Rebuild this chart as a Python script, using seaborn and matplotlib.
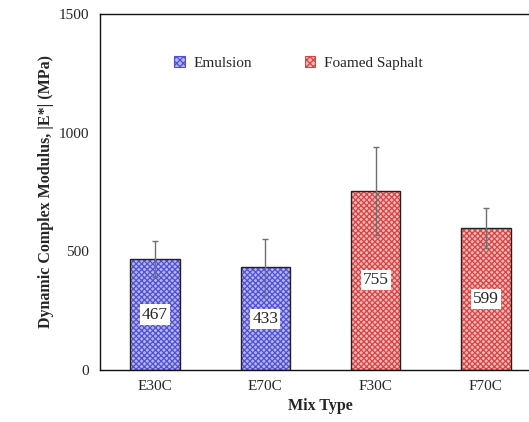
import matplotlib
matplotlib.use("Agg")
import matplotlib.pyplot as plt
import seaborn as sns
import pandas as pd
import numpy as np
from matplotlib.patches import Rectangle, Patch
from matplotlib.ticker import MultipleLocator, FixedLocator, NullFormatter

mixes = ["E30C", "E70C", "F30C", "F70C"]
groups = ["Emulsion", "Emulsion", "Foamed Saphalt", "Foamed Saphalt"]
modulus = [467, 433, 755, 599]
std_dev = [76, 118, 185, 83]

face = {"Emulsion": "#b4b4ee", "Foamed Saphalt": "#f4b8b8"}
hatch_col = {"Emulsion": "#5050d4", "Foamed Saphalt": "#d84444"}

sns.set_theme(style="white")
plt.rcParams["font.family"] = ["Liberation Serif", "DejaVu Serif"]
plt.rcParams["hatch.linewidth"] = 0.9

df = pd.DataFrame({"Mix": mixes, "Group": groups, "E": modulus})

fig = plt.figure(figsize=(5.29, 4.22), dpi=100)
ax = fig.add_axes([100 / 529, 52 / 422, 441 / 529, 356 / 422])

sns.barplot(data=df, x="Mix", y="E", hue="Group", dodge=False, width=0.45,
            errorbar=None, legend=False, ax=ax, linewidth=0)

bars = [p for p in ax.patches if p.get_height() > 0]
bars.sort(key=lambda p: p.get_x())
for p, g in zip(bars, groups):
    p.set_facecolor(face[g])
    p.set_edgecolor(hatch_col[g])
    p.set_hatch("xxxxxx")
    p.set_linewidth(0)
    ax.add_patch(Rectangle((p.get_x(), p.get_y()), p.get_width(), p.get_height(),
                           fill=False, edgecolor="#222222", linewidth=1.0, zorder=3))

xpos = np.arange(len(mixes))
ax.errorbar(xpos, modulus, yerr=std_dev, fmt="none", ecolor="#707070",
            elinewidth=1.0, capsize=2.5, capthick=1.0, zorder=4)

for x, v in zip(xpos, modulus):
    ax.text(x, v / 2, f"{v}", ha="center", va="center", fontsize=12.5,
            bbox=dict(facecolor="white", edgecolor="none", pad=1.5), zorder=5)

ax.set_xlim(-0.5, 3.5)
ax.set_ylim(0, 1500)
ax.yaxis.set_major_locator(MultipleLocator(500))
ax.yaxis.set_minor_locator(MultipleLocator(100))
ax.xaxis.set_major_locator(FixedLocator([-0.5, 0.5, 1.5, 2.5, 3.5]))
ax.xaxis.set_major_formatter(NullFormatter())
ax.xaxis.set_minor_locator(FixedLocator(xpos))
ax.set_xticklabels(mixes, minor=True)
ax.tick_params(axis="both", which="both", direction="out", color="#222222",
               labelsize=11, width=1.0)
ax.tick_params(axis="y", which="major", length=4, pad=4)
ax.tick_params(axis="y", which="minor", length=2.5)
ax.tick_params(axis="x", which="both", length=4, pad=3)

for s in ["left", "bottom", "top"]:
    ax.spines[s].set_visible(True)
    ax.spines[s].set_color("#111111")
    ax.spines[s].set_linewidth(1.0)
ax.spines["right"].set_visible(False)

ax.set_xlabel("Mix Type", fontsize=11.5, fontweight="bold", labelpad=4)
ax.set_ylabel("Dynamic Complex Modulus, |E*| (MPa)", fontsize=11.5,
              fontweight="bold", labelpad=3)

handles = [Patch(facecolor=face[g], edgecolor=hatch_col[g], hatch="xxxxx", linewidth=0.8)
           for g in ["Emulsion", "Foamed Saphalt"]]
ax.legend(handles, ["Emulsion", "Foamed Saphalt"], loc="upper left",
          bbox_to_anchor=(0.137, 0.92), ncol=2, frameon=False, fontsize=11,
          handlelength=0.7, handleheight=0.7, columnspacing=3.4, handletextpad=0.6)

fig.savefig("out.png", dpi=100)
